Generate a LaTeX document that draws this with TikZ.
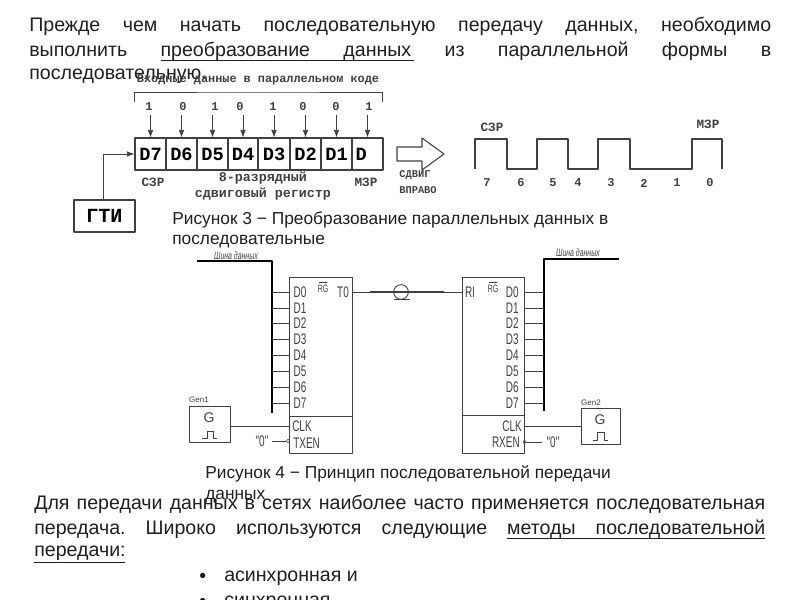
\documentclass[tikz,border=0pt]{standalone}
\usepackage{fontspec}
\setmainfont{Liberation Sans}
\newfontfamily\regfont{Liberation Mono}[BoldFont={Liberation Mono Bold}]
\newfontfamily\thinfont{Liberation Sans}[FakeStretch=0.65]
\usetikzlibrary{arrows.meta}
\definecolor{inkline}{gray}{0.25}
\definecolor{inktext}{gray}{0.12}
\frenchspacing
\tikzset{
  bodytext/.style={anchor=west,inner sep=0pt,text=inktext,font=\fontsize{14.7pt}{16pt}\selectfont},
  captext/.style={anchor=west,inner sep=0pt,text=inktext,font=\fontsize{13pt}{15pt}\selectfont},
  cell/.style={draw=inkline,thick,minimum height=24pt,inner sep=0pt,font=\regfont\bfseries\fontsize{14pt}{14pt}\selectfont},
  reglabel/.style={inner sep=0pt,text=inkline,font=\regfont\bfseries\fontsize{9.5pt}{10pt}\selectfont},
  bitlabel/.style={inner sep=0pt,text=inkline,font=\regfont\bfseries\fontsize{9pt}{10pt}\selectfont},
  pin/.style={inner sep=0pt,text=inkline,font=\thinfont\fontsize{11.5pt}{12pt}\selectfont},
  buslabel/.style={inner sep=0pt,text=inkline,font=\thinfont\itshape\fontsize{8pt}{8pt}\selectfont},
  genlabel/.style={inner sep=0pt,text=inkline,font=\fontsize{6pt}{6pt}\selectfont},
  chip/.style={draw=inkline,inner sep=0pt},
  wire/.style={draw=inkline,line width=.6pt},
  bus/.style={draw=black,line width=1.7pt},
}

\begin{document}
\begin{tikzpicture}[x=0.75pt,y=-0.75pt,line join=round]

  \useasboundingbox (0,0) rectangle (800,600);

  % text above
  \node [bodytext] (top1) at (29,26) {\hbox to 556.5pt{Прежде чем начать последовательную передачу данных, необходимо}};
  \node [bodytext] (top2) at (29,51) {\hbox to 556.5pt{выполнить преобразование данных из параллельной формы в}};
  \node [bodytext] (top3) at (29,76) {последовательную.};
  \draw [draw=inktext,line width=.6pt] (161,60) -- (414,60);

  % register
  \node [reglabel,font=\regfont\bfseries\fontsize{8.9pt}{9pt}\selectfont] (intitle) at (258,80) {Входные данные в параллельном коде};
  \coordinate (brl) at (134,102);
  \coordinate (brr) at (382,102);
  \draw [wire] (brl) |- (258,92) -| (brr);

  \node [cell,minimum width=23.25pt] (d7) at (150.5,154) {D7};
  \node [cell,minimum width=23.25pt] (d6) at (181.5,154) {D6};
  \node [cell,minimum width=23.25pt] (d5) at (212.5,154) {D5};
  \node [cell,minimum width=22.5pt] (d4) at (243,154) {D4};
  \node [cell,minimum width=24pt] (d3) at (274,154) {D3};
  \node [cell,minimum width=23.25pt] (d2) at (305.5,154) {D2};
  \node [cell,minimum width=23.25pt] (d1) at (336.5,154) {D1};
  \node [cell,minimum width=23.25pt,text width=18pt] (d0) at (367.5,154) {D};

  \node [bitlabel] (b7) at (149,107) {1};
  \node [bitlabel] (b6) at (183,107) {0};
  \node [bitlabel] (b5) at (215,107) {1};
  \node [bitlabel] (b4) at (240,107) {0};
  \node [bitlabel] (b3) at (273,107) {1};
  \node [bitlabel] (b2) at (303,107) {0};
  \node [bitlabel] (b1) at (336,107) {0};
  \node [bitlabel] (b0) at (369,107) {1};
  \draw [wire,-Latex] (150.5,115) -- (d7);
  \draw [wire,-Latex] (181.5,115) -- (d6);
  \draw [wire,-Latex] (212.5,115) -- (d5);
  \draw [wire,-Latex] (243,115) -- (d4);
  \draw [wire,-Latex] (274,115) -- (d3);
  \draw [wire,-Latex] (305.5,115) -- (d2);
  \draw [wire,-Latex] (336.5,115) -- (d1);
  \draw [wire,-Latex] (367.5,115) -- (d0);

  \node [reglabel] (msb) at (153,182) {СЗР};
  \node [reglabel] (lsb) at (366,182) {МЗР};
  \node [reglabel,font=\regfont\bfseries\fontsize{10pt}{10pt}\selectfont] (reg1) at (263,178) {8-разрядный};
  \node [reglabel,font=\regfont\bfseries\fontsize{10pt}{10pt}\selectfont] (reg2) at (263,194) {сдвиговый регистр};

  \node [cell,minimum width=45.75pt] (gti) at (104.5,216) {\fontsize{15pt}{15pt}\selectfont ГТИ};
  \draw [wire,-Latex] (gti.north -| 103,0) |- (d7.west);

  \draw [draw=inkline,thick] (397,147) -- (422,147) -- (422,138) -- (444,154) -- (422,170) -- (422,161) -- (397,161) -- cycle;
  \node [reglabel,font=\regfont\bfseries\fontsize{7.8pt}{8pt}\selectfont] (shift1) at (415,175) {СДВИГ};
  \node [reglabel,font=\regfont\bfseries\fontsize{7.8pt}{8pt}\selectfont] (shift2) at (418,190) {ВПРАВО};

  % pulses
  \draw [wire,line width=.9pt] (475,169) -- (475,139) -- (507,139) -- (507,169) -- (537,169) -- (537,139) -- (568,139) -- (568,169) -- (598,169) -- (598,139) -- (630,139) -- (630,169) -- (692,169) -- (692,139) -- (722,139) -- (722,169);
  \node [reglabel] (wmsb) at (492,127) {СЗР};
  \node [reglabel] (wlsb) at (708,124) {МЗР};
  \node [bitlabel] (w7) at (487,183) {7};
  \node [bitlabel] (w6) at (521,183) {6};
  \node [bitlabel] (w5) at (553,183) {5};
  \node [bitlabel] (w4) at (578,183) {4};
  \node [bitlabel] (w3) at (611,183) {3};
  \node [bitlabel] (w2) at (644,183) {2};
  \node [bitlabel] (w1) at (677,183) {1};
  \node [bitlabel] (w0) at (710,183) {0};

  \node [captext] (cap3a) at (172,220) {Рисунок 3 − Преобразование параллельных данных в};
  \node [captext] (cap3b) at (172,242) {последовательные};

  % transmitter
  \node [chip,minimum width=47.25pt,minimum height=132pt] (tx) at (320.5,365) {};
  \coordinate (txl) at (tx.west |- 0,416);
  \coordinate (txr) at (tx.east |- 0,416);
  \draw [wire] (txl) -- (txr);
  \coordinate (busa) at (197,261);
  \coordinate (busb) at (272,261);
  \coordinate (busc) at (272,413);
  \draw [bus] (busa) -- (busb) -- (busc);
  \node [buslabel] (buslbl1) at (236,256) {Шина данных};
  \node [pin] (p0) at (300,292) {D0};
  \node [pin] (p1) at (300,308) {D1};
  \node [pin] (p2) at (300,323) {D2};
  \node [pin] (p3) at (300,339) {D3};
  \node [pin] (p4) at (300,355) {D4};
  \node [pin] (p5) at (300,371) {D5};
  \node [pin] (p6) at (300,387) {D6};
  \node [pin] (p7) at (300,403) {D7};
  \draw [wire] (272,292) -- (p0 -| tx.west);
  \draw [wire] (272,308) -- (p1 -| tx.west);
  \draw [wire] (272,323) -- (p2 -| tx.west);
  \draw [wire] (272,339) -- (p3 -| tx.west);
  \draw [wire] (272,355) -- (p4 -| tx.west);
  \draw [wire] (272,371) -- (p5 -| tx.west);
  \draw [wire] (272,387) -- (p6 -| tx.west);
  \draw [wire] (272,403) -- (p7 -| tx.west);
  \node [pin,font=\thinfont\fontsize{8pt}{8pt}\selectfont] (rgtx) at (323,289) {RG};
  \draw [wire,line width=.4pt,-{Latex[length=2pt]}] (319,282.5) -- (328,282.5);
  \node [pin] (to) at (343,292) {T0};
  \node [pin,anchor=west] (clka) at (292,426) {CLK};
  \node [pin,anchor=west] (txen) at (293,443) {TXEN};

  \node [chip,minimum width=30.75pt,minimum height=27pt] (gen1) at (209.5,424) {};
  \node [genlabel] (gen1lbl) at (199,400) {Gen1};
  \node [inner sep=0pt,text=inkline,font=\fontsize{10.5pt}{11pt}\selectfont] (g1) at (209,418) {G};
  \draw [wire] (202,438) -- (207,438) -- (207,431) -- (213,431) -- (213,438) -- (217,438);
  \draw [wire] (gen1.east |- clka) -- (clka -| tx.west);
  \node [pin] (zero1) at (262,441) {"0"};
  \node [circle,draw=inkline,inner sep=0pt,minimum size=2.5pt] (inv1) at (288,441) {};
  \draw [wire] (272,441) -- (inv1);

  % line
  \node [circle,draw=inkline,line width=.7pt,inner sep=0pt,minimum size=11pt] (loop) at (401,292) {};
  \coordinate (lthin) at (370,292);
  \coordinate (rthin) at (444,292);
  \draw [wire] (to -| tx.east) -- (lthin);
  \draw [wire,line width=1pt] (lthin) -- (rthin);
  \draw [wire,line width=.7pt] (394,299) -- (410,299);

  % receiver
  \node [chip,minimum width=46.5pt,minimum height=132pt] (rx) at (493,365) {};
  \coordinate (rxl) at (rx.west |- 0,415);
  \coordinate (rxr) at (rx.east |- 0,415);
  \draw [wire] (rxl) -- (rxr);
  \coordinate (busd) at (619,259);
  \coordinate (buse) at (544,259);
  \coordinate (busf) at (544,411);
  \draw [bus] (busd) -- (buse) -- (busf);
  \node [buslabel] (buslbl2) at (578,253) {Шина данных};
  \node [pin,anchor=east] (q0) at (519,292) {D0};
  \node [pin,anchor=east] (q1) at (519,308) {D1};
  \node [pin,anchor=east] (q2) at (519,323) {D2};
  \node [pin,anchor=east] (q3) at (519,339) {D3};
  \node [pin,anchor=east] (q4) at (519,355) {D4};
  \node [pin,anchor=east] (q5) at (519,371) {D5};
  \node [pin,anchor=east] (q6) at (519,387) {D6};
  \node [pin,anchor=east] (q7) at (519,403) {D7};
  \draw [wire] (q0 -| rx.east) -- (544,292);
  \draw [wire] (q1 -| rx.east) -- (544,308);
  \draw [wire] (q2 -| rx.east) -- (544,323);
  \draw [wire] (q3 -| rx.east) -- (544,339);
  \draw [wire] (q4 -| rx.east) -- (544,355);
  \draw [wire] (q5 -| rx.east) -- (544,371);
  \draw [wire] (q6 -| rx.east) -- (544,387);
  \draw [wire] (q7 -| rx.east) -- (544,403);
  \node [pin,font=\thinfont\fontsize{8pt}{8pt}\selectfont] (rgrx) at (493,289) {RG};
  \draw [wire,line width=.4pt,-{Latex[length=2pt]}] (489,282.5) -- (498,282.5);
  \node [pin] (ri) at (470,292) {RI};
  \draw [wire] (rthin) -- (ri -| rx.west);
  \node [pin,anchor=east] (clkb) at (522,426) {CLK};
  \node [pin,anchor=east] (rxen) at (520,442) {RXEN};

  \node [chip,minimum width=29.25pt,minimum height=27pt] (gen2) at (600.5,426) {};
  \node [genlabel] (gen2lbl) at (591,403) {Gen2};
  \node [inner sep=0pt,text=inkline,font=\fontsize{10.5pt}{11pt}\selectfont] (g2) at (600,420) {G};
  \draw [wire] (593,440) -- (597,440) -- (597,432) -- (604,432) -- (604,440) -- (608,440);
  \draw [wire] (clkb -| rx.east) -- (gen2.west |- clkb);
  \node [pin] (zero2) at (553,442) {"0"};
  \node [circle,draw=inkline,inner sep=0pt,minimum size=2.5pt] (inv2) at (524.5,442) {};
  \draw [wire] (inv2) -- (542,442);

  \node [captext] (cap4a) at (205,474) {Рисунок 4 − Принцип последовательной передачи};
  \node [captext] (cap4b) at (205,497) {данных};

  % text below
  \node [bodytext] (low1) at (34,504) {\hbox to 548.25pt{Для передачи данных в сетях наиболее часто применяется последовательная}};
  \node [bodytext] (low2) at (34,529) {\hbox to 548.25pt{передача. Широко используются следующие методы последовательной}};
  \node [bodytext] (low3) at (34,553) {передачи:};
  \draw [draw=inktext,line width=.6pt] (507,538) -- (765,538);
  \draw [draw=inktext,line width=.6pt] (34,562) -- (125,562);
  \node [bodytext] (dot1) at (199,578) {•};
  \node [bodytext] (item1) at (224,578) {асинхронная и};
  \node [bodytext] (dot2) at (199,603) {•};
  \node [bodytext] (item2) at (224,603) {синхронная};

\end{tikzpicture}
\end{document}
